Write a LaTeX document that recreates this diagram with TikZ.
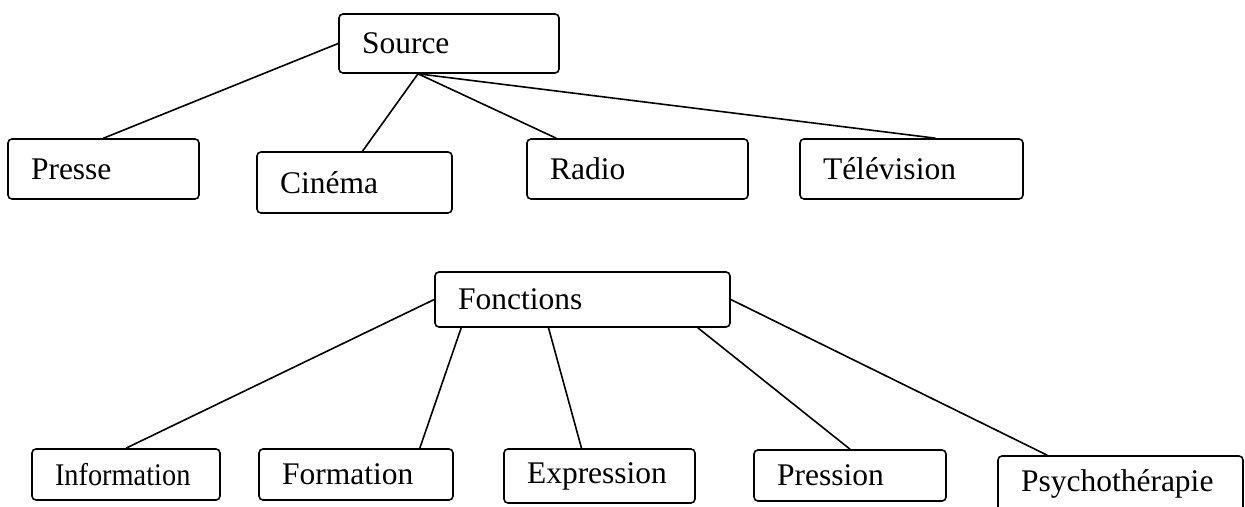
\documentclass[tikz,border=0pt]{standalone}
\usepackage{fontspec}
\setmainfont{Liberation Serif}
\newfontfamily\narrowfont{Liberation Serif}[FakeStretch=0.9]
\hyphenpenalty=10000
\begin{document}
\begin{tikzpicture}[x=0.5pt, y=-0.5pt,
    box/.style={draw, thick, rounded corners=2pt, inner xsep=11.5pt, inner ysep=0pt, align=left, minimum height=30pt, font=\fontsize{15.75}{18}\selectfont}]
    \useasboundingbox (0,0) rectangle (1245,507);

    \node[box, text width=87pt, minimum height=29.5pt] (src) at (449,43.5) {Source};

    \node[box, text width=72.5pt] (presse) at (103.5,169) {Presse};
    \node[box, text width=74.5pt, minimum height=30.5pt] (cinema) at (354.5,182.5) {Cinéma};
    \node[box, text width=87.5pt] (radio) at (637.5,169) {Radio};
    \node[box, text width=88.5pt] (tele) at (911.5,169) {Télévision};
    \draw[thick] (src.west) -- (presse.north);
    \draw[thick] ([xshift=-15.5pt]src.south) -- ([xshift=4pt]cinema.north);
    \draw[thick] ([xshift=-15.5pt]src.south) -- ([xshift=15pt]radio.north west);
    \draw[thick] ([xshift=-15.5pt]src.south) -- ([xshift=12pt]tele.north);

    \node[box, text width=124.5pt, minimum height=27.5pt] (fonc) at (582.5,299.5) {Fonctions};

    \node[box, text width=71pt, minimum height=25.5pt, font=\fontsize{15.75}{18}\narrowfont] (info) at (126,474.5) {Information};
    \node[box, text width=74pt, minimum height=25.5pt] (forma) at (356,474.5) {Formation};
    \node[box, text width=72.5pt, minimum height=27pt] (expr) at (599.5,476) {Expression};
    \node[box, text width=73pt, minimum height=25.5pt] (press) at (850,475.5) {Pression};
    \node[box, text width=99.5pt, minimum height=28pt] (psy) at (1120.5,484) {Psychothérapie};
    \draw[thick] (fonc.west) -- (info.north);
    \draw[thick] ([xshift=13.5pt]fonc.south west) -- ([xshift=-17pt]forma.north east);
    \draw[thick] ([xshift=-17pt]fonc.south) -- ([xshift=-9pt]expr.north);
    \draw[thick] ([xshift=-16.5pt]fonc.south east) -- (press.north);
    \draw[thick] (fonc.east) -- ([xshift=25pt]psy.north west);

\end{tikzpicture}
\end{document}
